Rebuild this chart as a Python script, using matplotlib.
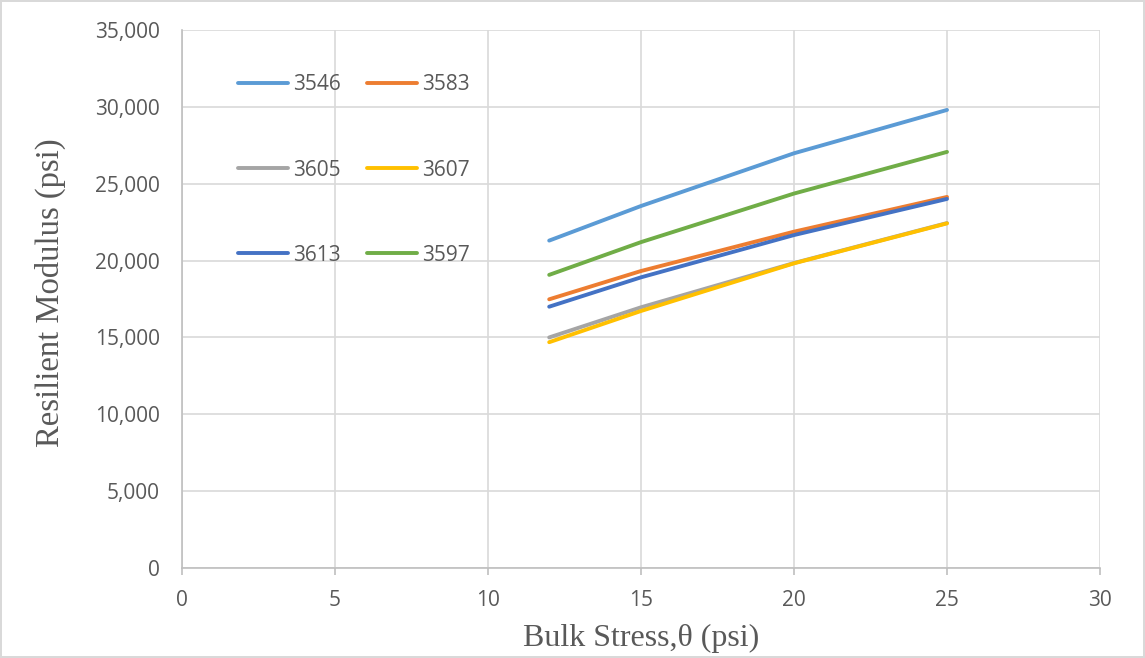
import matplotlib.pyplot as plt
from matplotlib.ticker import FuncFormatter

# bulk stress values (psi)
theta = [12, 15, 20, 25]

# resilient modulus per sample (psi)
mr_3546 = [21300, 23550, 26980, 29800]
mr_3583 = [17480, 19320, 21880, 24140]
mr_3605 = [15000, 16960, 19840, 22440]
mr_3607 = [14690, 16720, 19820, 22420]
mr_3613 = [17000, 18910, 21660, 24010]
mr_3597 = [19070, 21200, 24360, 27070]

labels = ['3546', '3583', '3605', '3607', '3613', '3597']
colors = ['#5b9bd5', '#ed7d31', '#a5a5a5', '#ffc000', '#4472c4', '#70ad47']
series = [mr_3546, mr_3583, mr_3605, mr_3607, mr_3613, mr_3597]

grey = '#595959'
W, H = 1145, 658

fig = plt.figure(figsize=(W / 100, H / 100), dpi=100)
fig.patch.set_edgecolor('#d9d9d9')
fig.patch.set_linewidth(1.5)
ax = fig.add_axes([182 / W, 1 - 568 / H, 918 / W, 538 / H])

lines = {}
for lab, col, ys in zip(labels, colors, series):
    ln, = ax.plot(theta, ys, color=col, lw=2.8, solid_capstyle='round', label=lab)
    lines[lab] = ln

ax.set_xlim(0, 30)
ax.set_ylim(0, 35000)
ax.set_xticks(range(0, 31, 5))
ax.set_yticks(range(0, 35001, 5000))
ax.yaxis.set_major_formatter(FuncFormatter(lambda v, p: f'{int(v):,}'))
ax.grid(True, color='#d9d9d9', lw=1.2)
ax.set_axisbelow(True)

for s in ['top', 'right']:
    ax.spines[s].set_visible(False)
for s in ['left', 'bottom']:
    ax.spines[s].set_color('#bfbfbf')
    ax.spines[s].set_linewidth(1.2)
ax.tick_params(axis='x', colors='#bfbfbf', length=5, width=1.2, labelcolor=grey,
               labelsize=15, pad=11)
ax.tick_params(axis='y', length=0, labelcolor=grey, labelsize=15, pad=16)
for t in ax.get_xticklabels() + ax.get_yticklabels():
    t.set_family('Open Sans')

fig.text(641 / W, 1 - 638 / H, 'Bulk Stress,θ (psi)', family='Liberation Serif',
         fontsize=23, color=grey, ha='center', va='center')
fig.text(50 / W, 1 - 293 / H, 'Resilient Modulus (psi)', family='Liberation Serif',
         fontsize=23.5, color=grey, ha='center', va='center', rotation=90)

# legend columns: left 3546/3605/3613, right 3583/3607/3597
order = ['3546', '3605', '3613', '3583', '3607', '3597']
leg = ax.legend([lines[k] for k in order], order, ncol=2, loc='upper left',
                bbox_to_anchor=(228 / W, 1 - 64 / H), bbox_transform=fig.transFigure,
                frameon=False, borderpad=0, handlelength=2.4,
                handletextpad=0.2, columnspacing=1.3, labelspacing=3.08,
                prop={'family': 'Open Sans', 'size': 15})
for t in leg.get_texts():
    t.set_color(grey)

fig.savefig('out.png', dpi=100)
